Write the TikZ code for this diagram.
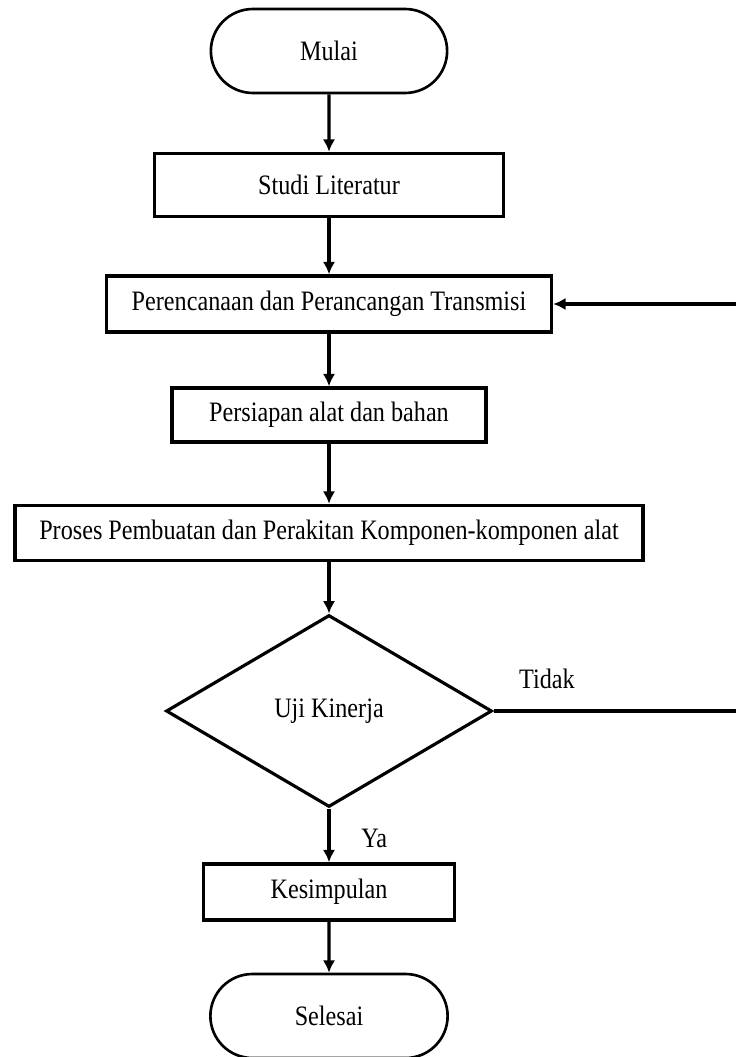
\documentclass[tikz,border=0pt]{standalone}
\usepackage{fontspec}
\setmainfont{Liberation Serif}[FakeStretch=0.86]
\usepackage{tikz}
\usetikzlibrary{shapes,arrows,arrows.meta}
\usetikzlibrary{positioning}
\usetikzlibrary{calc}
\newcommand\flowbox[5][]{%
  \node[#1,minimum width=#2cm,minimum height=#3cm] (#4) {#5};
}

\begin{document}
\begin{tikzpicture}[
x=0.02cm, y=-0.02cm,
line width=1.8pt,
>={Latex[length=7pt,width=7pt]},
every node/.style={font=\fontsize{16}{19}\selectfont},
terminal/.style={
  rounded rectangle,
  draw,
  line width=1.5pt},
process/.style={
  rectangle,
  draw,
  line width=2pt},
decision/.style={
  diamond,
  draw,
  inner sep=0pt}
]
\useasboundingbox (0,0) rectangle (736,1057);
\flowbox[terminal,at={(329,51)}]{4.96}{1.68}{mulai}{Mulai}
\flowbox[process,at={(329,185)}]{6.98}{1.26}{studi}{Studi Literatur}
\flowbox[process,at={(329,304)}]{8.9}{1.12}{rencana}{Perencanaan dan Perancangan Transmisi}
\flowbox[process,at={(329,415)}]{6.28}{1.08}{persiapan}{Persiapan alat dan bahan}
\flowbox[process,at={(329,533)}]{12.56}{1.1}{proses}{Proses Pembuatan dan Perakitan Komponen-komponen alat}
\flowbox[decision,at={(329,711)}]{6.52}{3.84}{uji}{Uji Kinerja}
\flowbox[process,at={(329,892)}]{5.02}{1.12}{kesimpulan}{Kesimpulan}
\flowbox[terminal,at={(329,1016)}]{4.98}{1.68}{selesai}{Selesai}
\coordinate (tidakend) at (736,711);
\coordinate (ulangstart) at (736,304);
\draw [->] (mulai) -- (studi);
\draw [->] (studi) -- (rencana);
\draw [->] (rencana) -- (persiapan);
\draw [->] (persiapan) -- (proses);
\draw [->] (proses) -- (uji);
\draw [->] (uji) -- node [pos=0.55, right=0.5cm] (ya) {Ya} (kesimpulan);
\draw [->] (kesimpulan) -- (selesai);
\draw (uji) -- node [pos=0.22, above=0.3cm] (tidak) {Tidak} (tidakend);
\draw [->] (ulangstart) -- (rencana);
\end{tikzpicture}
\end{document}
